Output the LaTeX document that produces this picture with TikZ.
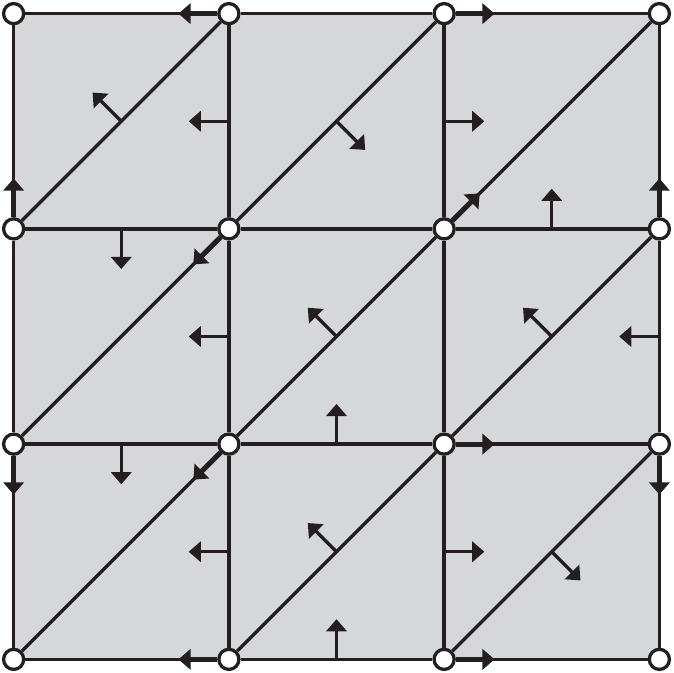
\documentclass[tikz,border=0pt]{standalone}
\usetikzlibrary{positioning,arrows.meta,backgrounds}
\definecolor{cellgray}{RGB}{214,215,217}
\definecolor{ink}{RGB}{35,31,32}
\tikzset{>={Triangle[length=4.8pt,width=8pt]}}

\begin{document}
\begin{tikzpicture}[node distance=3cm, line width=1.3pt, color=ink,
    vert/.style={draw, circle, fill=white, inner sep=0pt, minimum size=0.28cm},
    flux/.style={->},
    edgeflow/.style={->, line width=2pt}]
      \useasboundingbox (-0.19,-0.19) rectangle (9.19,9.19);
      % grid vertices
      \node[vert] (n00) {};
      \node[vert, right of=n00] (n10) {};
      \node[vert, right of=n10] (n20) {};
      \node[vert, right of=n20] (n30) {};
      \node[vert, above of=n00] (n01) {};
      \node[vert, right of=n01] (n11) {};
      \node[vert, right of=n11] (n21) {};
      \node[vert, right of=n21] (n31) {};
      \node[vert, above of=n01] (n02) {};
      \node[vert, right of=n02] (n12) {};
      \node[vert, right of=n12] (n22) {};
      \node[vert, right of=n22] (n32) {};
      \node[vert, above of=n02] (n03) {};
      \node[vert, right of=n03] (n13) {};
      \node[vert, right of=n13] (n23) {};
      \node[vert, right of=n23] (n33) {};
      \begin{scope}[on background layer]
        \fill[cellgray] (n00.center) rectangle (n33.center);
      \end{scope}
      % edges
      \draw (n03) -- (n13) -- (n23) -- (n33);
      \draw (n02) -- coordinate (h02) (n12) -- (n22) -- coordinate (h22) (n32);
      \draw (n01) -- coordinate (h01) (n11) -- coordinate (h11) (n21) -- (n31);
      \draw (n00) -- (n10) -- coordinate (h10) (n20) -- (n30);
      \draw (n00) -- (n01) -- (n02) -- (n03);
      \draw (n10) -- coordinate (u10) (n11) -- coordinate (u11) (n12) -- coordinate (u12) (n13);
      \draw (n20) -- coordinate (u20) (n21) -- (n22) -- coordinate (u22) (n23);
      \draw (n30) -- (n31) -- coordinate (u31) (n32) -- (n33);
      \draw (n00) -- (n11) -- coordinate (d11) (n22) -- (n33);
      \draw (n01) -- (n12) -- coordinate (d12) (n23);
      \draw (n02) -- coordinate (d02) (n13);
      \draw (n10) -- coordinate (d10) (n21) -- coordinate (d21) (n32);
      \draw (n20) -- coordinate (d20) (n31);
      % normal arrows
      \draw[flux] (h02) -- ++(0,-0.56);
      \draw[flux] (h22) -- ++(0,0.56);
      \draw[flux] (h01) -- ++(0,-0.56);
      \draw[flux] (h11) -- ++(0,0.56);
      \draw[flux] (h10) -- ++(0,0.56);
      \draw[flux] (u10) -- ++(-0.56,0);
      \draw[flux] (u11) -- ++(-0.56,0);
      \draw[flux] (u12) -- ++(-0.56,0);
      \draw[flux] (u20) -- ++(0.56,0);
      \draw[flux] (u22) -- ++(0.56,0);
      \draw[flux] (u31) -- ++(-0.56,0);
      \draw[flux] (d02) -- ++(-0.4,0.4);
      \draw[flux] (d12) -- ++(0.4,-0.4);
      \draw[flux] (d11) -- ++(-0.4,0.4);
      \draw[flux] (d21) -- ++(-0.4,0.4);
      \draw[flux] (d10) -- ++(-0.4,0.4);
      \draw[flux] (d20) -- ++(0.4,-0.4);
      % arrows along edges
      \draw[edgeflow] (n13.west) -- ++(-0.54,0);
      \draw[edgeflow] (n23.east) -- ++(0.54,0);
      \draw[edgeflow] (n02.north) -- ++(0,0.54);
      \draw[edgeflow] (n32.north) -- ++(0,0.54);
      \draw[edgeflow] (n22.north east) -- ++(0.38,0.38);
      \draw[edgeflow] (n12.south west) -- ++(-0.38,-0.38);
      \draw[edgeflow] (n11.south west) -- ++(-0.38,-0.38);
      \draw[edgeflow] (n21.east) -- ++(0.54,0);
      \draw[edgeflow] (n01.south) -- ++(0,-0.54);
      \draw[edgeflow] (n31.south) -- ++(0,-0.54);
      \draw[edgeflow] (n10.west) -- ++(-0.54,0);
      \draw[edgeflow] (n20.east) -- ++(0.54,0);
    \end{tikzpicture}
\end{document}
